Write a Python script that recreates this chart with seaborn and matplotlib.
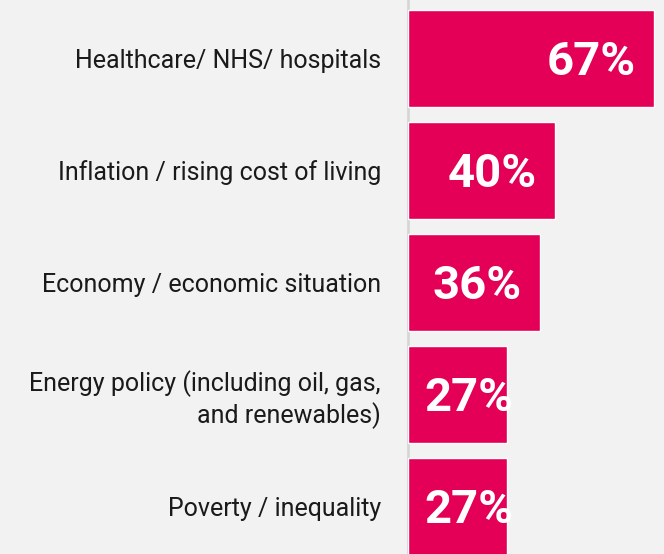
import matplotlib
matplotlib.use("Agg")
import matplotlib.pyplot as plt
import seaborn as sns
import pandas as pd

categories = [
    "Healthcare/ NHS/ hospitals",
    "Inflation / rising cost of living",
    "Economy / economic situation",
    "Energy policy (including oil, gas,\nand renewables)",
    "Poverty / inequality",
]
values = [67, 40, 36, 27, 27]
value_labels = ["67%", "40%", "36%", "27%", "27%"]

BG = "#F2F2F2"
BAR = "#E40057"

sns.set_theme(style="white")
plt.rcParams["font.family"] = ["Roboto", "DejaVu Sans"]

df = pd.DataFrame({"category": categories, "value": values})

fig = plt.figure(figsize=(6.64, 5.54), dpi=100, facecolor=BG)
ax = fig.add_axes([408 / 664, 0, 256 / 664, 1])
ax.set_facecolor(BG)

sns.barplot(data=df, y="category", x="value", orient="h", color=BAR,
            saturation=1, width=0.866, ax=ax, zorder=3)

ax.set_xlim(0, 69.85)
ax.set_ylim(4.424, -0.522)
ax.set_xlabel("")
ax.set_ylabel("")
ax.set_xticks([])
for s in ["top", "right", "bottom"]:
    ax.spines[s].set_visible(False)
ax.spines["left"].set_color("#D6D6D6")
ax.spines["left"].set_linewidth(2)
ax.spines["left"].set_zorder(1)

ax.tick_params(axis="y", length=0, pad=19.5)
for lbl in ax.get_yticklabels():
    lbl.set_fontsize(18)
    lbl.set_color("#1A1A1A")
    lbl.set_horizontalalignment("right")
    lbl.set_multialignment("right")

for i, (v, t) in enumerate(zip(values, value_labels)):
    right = v - 4.9
    if right - 25 < 4.4:
        ax.text(4.4, i + 0.03, t, ha="left", va="center", color="white",
                fontsize=34, fontweight="bold", zorder=4)
    else:
        ax.text(right, i + 0.03, t, ha="right", va="center", color="white",
                fontsize=34, fontweight="bold", zorder=4)

fig.savefig("out.png", dpi=100, facecolor=BG)
